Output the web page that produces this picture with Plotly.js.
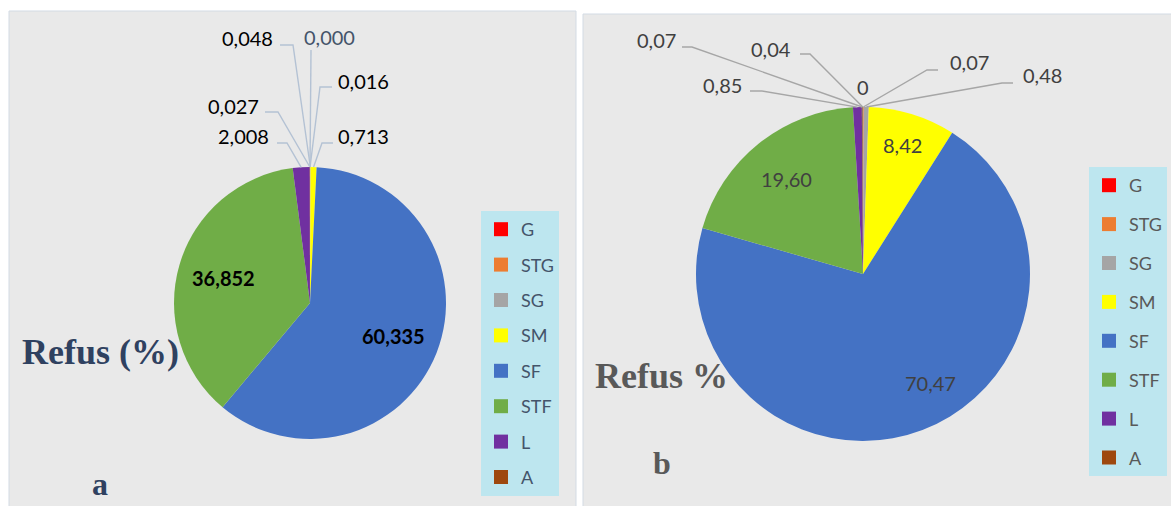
<!DOCTYPE html>
<html><head><meta charset="utf-8">
<script src="https://cdn.plot.ly/plotly-3.0.1.min.js"></script>
<style>html,body{margin:0;padding:0;background:#fff}#chart{width:1171px;height:506px}</style>
</head><body><div id="chart"></div>
<script>
// ---------- data ----------
const categories = ['G', 'STG', 'SG', 'SM', 'SF', 'STF', 'L', 'A'];
const refusA = [0.000, 0.016, 0.048, 0.713, 60.335, 36.852, 2.008, 0.027];
const slicesB = ['G', 'STG', 'SG', 'SM', 'SF', 'STF', 'L', 'A', '(autre)'];
const refusB = [0, 0.07, 0.48, 8.42, 70.47, 19.60, 0.85, 0.07, 0.04];
const titleA = 'Refus (%)';
const titleB = 'Refus %';
const panelA = 'a';
const panelB = 'b';

// ---------- styles / placement ----------
const W = 1171, H = 506;
const sliceColors = ['#ff0000', '#ed7d31', '#a5a5a5', '#ffff00', '#4472c4', '#70ad47', '#7030a0', '#9e480e', '#636363'];
const pieA = {cx: 310, cy: 303, r: 136};
const pieB = {cx: 863, cy: 274, r: 167};
const px = x => x / W;
const py = y => 1 - y / H;

// outside label placement (pixel): text centre and elbow points of leader line
const outA = {
  0: {t: [329, 37], pts: [[311, 50]], color: '#44546a'},
  1: {t: [363, 81], pts: [[332, 87], [320, 87]]},
  2: {t: [247, 38], pts: [[280, 45], [293, 45]]},
  3: {t: [363, 136], pts: [[333, 143], [322, 143]]},
  6: {t: [243, 136], pts: [[277, 143], [287, 143]]},
  7: {t: [233, 106], pts: [[265, 112], [278, 112]]}
};
const outB = {
  0: {t: [863, 87], pts: null},
  1: {t: [969, 62], pts: [[938, 70], [927, 70]]},
  2: {t: [1042, 75], pts: [[1013, 83], [1002, 83]]},
  6: {t: [722, 85], pts: [[750, 91], [762, 91]]},
  7: {t: [656, 40], pts: [[682, 47], [692, 47]]},
  8: {t: [771, 49], pts: [[800, 54], [810, 54]]}
};
// inside labels: radius fraction and angular shift (deg) from slice mid-angle
const insideA = {4: {f: 0.66, da: 0}, 5: {f: 0.66, da: 0}};
const insideB = {3: {f: 0.81, da: 0}, 4: {f: 0.77, da: -11}, 5: {f: 0.73, da: 0}};

function domainOf(p) {
  return {x: [px(p.cx - p.r), px(p.cx + p.r)], y: [py(p.cy + p.r), py(p.cy - p.r)]};
}
function midAngles(vals) {
  const tot = vals.reduce((a, b) => a + b, 0);
  let c = 0;
  return vals.map(v => { const m = (c + v / 2) / tot * 360; c += v; return m; });
}
function onPie(p, ang, f) {
  const a = ang * Math.PI / 180;
  return [p.cx + p.r * f * Math.sin(a), p.cy - p.r * f * Math.cos(a)];
}
const fmtA = v => v.toFixed(3).replace('.', ',');
const fmtB = v => v === 0 ? '0' : v.toFixed(2).replace('.', ',');

const annotations = [];
const shapes = [
  {type: 'rect', xref: 'paper', yref: 'paper', x0: px(9), x1: px(576), y0: py(512), y1: py(11),
   fillcolor: '#e9e9e9', line: {color: '#d3dbe4', width: 1}, layer: 'below'},
  {type: 'rect', xref: 'paper', yref: 'paper', x0: px(583), x1: px(1176), y0: py(512), y1: py(14),
   fillcolor: '#e9e9e9', line: {color: '#d3dbe4', width: 1}, layer: 'below'}
];

function addLabels(p, vals, fmt, outs, inside, outFont, lineColor, inFont) {
  const mids = midAngles(vals);
  Object.keys(outs).forEach(k => {
    const i = +k, o = outs[k];
    annotations.push({xref: 'paper', yref: 'paper', x: px(o.t[0]), y: py(o.t[1]), xanchor: 'center', yanchor: 'middle',
      text: fmt(vals[i]), showarrow: false,
      font: Object.assign({}, outFont, o.color ? {color: o.color} : {})});
    if (o.pts) {
      const end = onPie(p, mids[i], 1);
      const all = o.pts.concat([end]);
      const d = all.map((q, j) => (j ? 'L' : 'M') + px(q[0]) + ',' + py(q[1])).join(' ');
      shapes.push({type: 'path', xref: 'paper', yref: 'paper', path: d, line: {color: lineColor, width: 1.4}});
    }
  });
  Object.keys(inside).forEach(k => {
    const i = +k, s = inside[k];
    const q = onPie(p, mids[i] + s.da, s.f);
    annotations.push({xref: 'paper', yref: 'paper', x: px(q[0]), y: py(q[1]), xanchor: 'center', yanchor: 'middle',
      text: inFont.bold ? '<b>' + fmt(vals[i]) + '</b>' : fmt(vals[i]), showarrow: false,
      font: {family: inFont.family, size: inFont.size, color: inFont.color}});
  });
}
addLabels(pieA, refusA, fmtA, outA, insideA, {family: 'Lato', size: 20, color: '#000000'}, '#b4c2d4',
  {family: 'Lato', size: 20, color: '#000000', bold: true});
addLabels(pieB, refusB, fmtB, outB, insideB, {family: 'Lato', size: 20, color: '#404040'}, '#a6a6a6',
  {family: 'Lato', size: 20, color: '#404040', bold: false});

annotations.push(
  {xref: 'paper', yref: 'paper', x: px(100), y: py(352), xanchor: 'center', yanchor: 'middle', showarrow: false,
   text: '<b>' + titleA + '</b>', font: {family: 'Liberation Serif', size: 36, color: '#2f4160'}},
  {xref: 'paper', yref: 'paper', x: px(100), y: py(484), xanchor: 'center', yanchor: 'middle', showarrow: false,
   text: '<b>' + panelA + '</b>', font: {family: 'Liberation Serif', size: 32, color: '#2f4160'}},
  {xref: 'paper', yref: 'paper', x: px(661), y: py(376), xanchor: 'center', yanchor: 'middle', showarrow: false,
   text: '<b>' + titleB + '</b>', font: {family: 'Liberation Serif', size: 36, color: '#595959'}},
  {xref: 'paper', yref: 'paper', x: px(662), y: py(463), xanchor: 'center', yanchor: 'middle', showarrow: false,
   text: '<b>' + panelB + '</b>', font: {family: 'Liberation Serif', size: 32, color: '#595959'}}
);

const traces = [
  {type: 'pie', labels: categories, values: refusA, marker: {colors: sliceColors, line: {width: 0}},
   sort: false, direction: 'clockwise', rotation: 0, textinfo: 'none', domain: domainOf(pieA),
   showlegend: false, hoverinfo: 'label+value'},
  {type: 'pie', labels: slicesB, values: refusB, marker: {colors: sliceColors, line: {width: 0}},
   sort: false, direction: 'clockwise', rotation: 0, textinfo: 'none', domain: domainOf(pieB),
   showlegend: false, hoverinfo: 'label+value'}
];
categories.forEach((c, i) => {
  traces.push({type: 'scatter', x: [null], y: [null], mode: 'markers', name: c, legend: 'legend',
    legendgroup: 'a' + i, marker: {symbol: 'square', size: 14, color: sliceColors[i]}, hoverinfo: 'skip'});
});
categories.forEach((c, i) => {
  traces.push({type: 'scatter', x: [null], y: [null], mode: 'markers', name: c, legend: 'legend2',
    legendgroup: 'b' + i, marker: {symbol: 'square', size: 14, color: sliceColors[i]}, hoverinfo: 'skip'});
});

const layout = {
  width: W, height: H, margin: {l: 0, r: 0, t: 0, b: 0},
  paper_bgcolor: '#ffffff', plot_bgcolor: 'rgba(0,0,0,0)',
  xaxis: {visible: false, range: [0, 1], fixedrange: true},
  yaxis: {visible: false, range: [0, 1], fixedrange: true},
  showlegend: true,
  legend: {x: px(481), xanchor: 'left', y: py(211), yanchor: 'top', bgcolor: '#bde6ef', borderwidth: 0,
    font: {family: 'Lato', size: 18, color: '#44546a'}, traceorder: 'grouped', tracegroupgap: 9},
  legend2: {x: px(1167), xanchor: 'right', y: py(167), yanchor: 'top', bgcolor: '#bde6ef', borderwidth: 0,
    font: {family: 'Lato', size: 18, color: '#595959'}, traceorder: 'grouped', tracegroupgap: 12.5},
  shapes: shapes,
  annotations: annotations
};
Plotly.newPlot('chart', traces, layout, {displayModeBar: false, staticPlot: true});
</script>
</body></html>
